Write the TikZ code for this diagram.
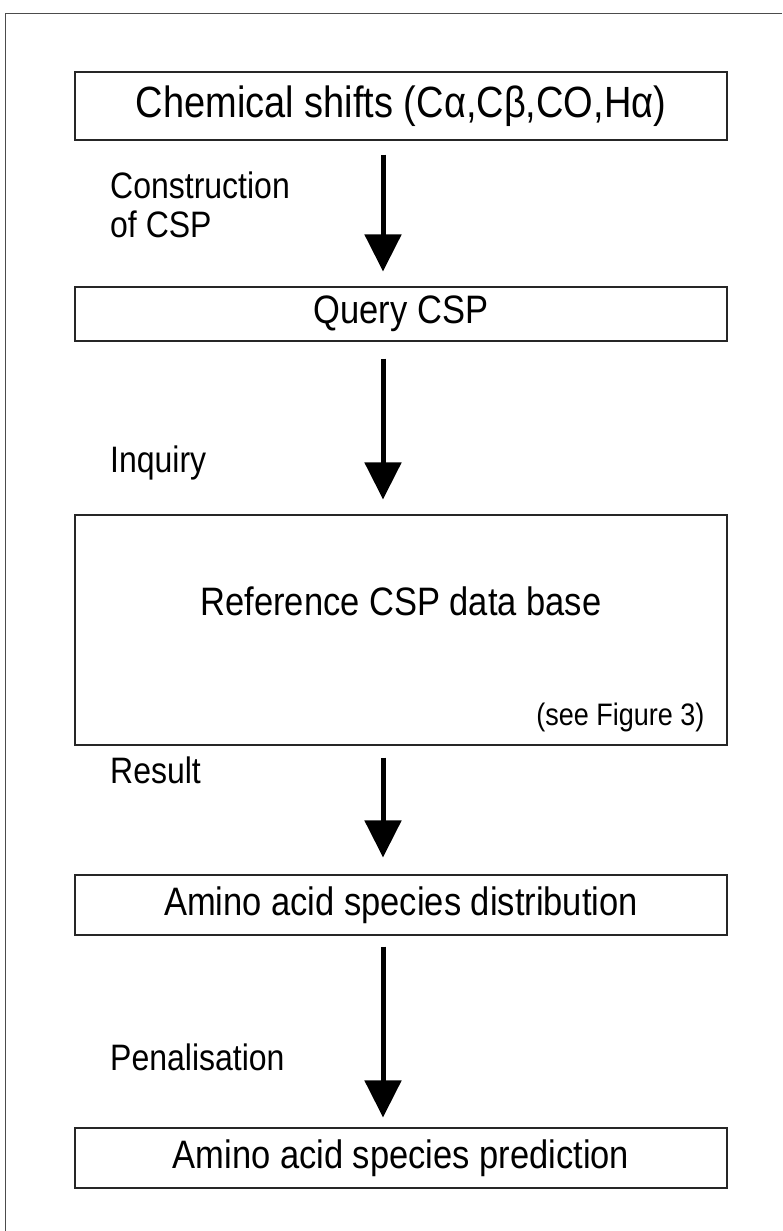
\documentclass[tikz,border=0pt]{standalone}
\usepackage{fontspec}
\setmainfont{Liberation Sans}
\usetikzlibrary{arrows.meta}
\newcommand{\tallt}[1]{\scalebox{1}[1.15]{#1}}
\begin{document}
\begin{tikzpicture}[x=1pt,y=-1pt,
  stage/.style={draw=black!85,line width=1.1pt,minimum width=652pt,inner sep=0pt,font=\fontsize{34.5}{40}\selectfont},
  flow/.style={line width=5pt,-{Triangle[width=36pt,length=37pt]}},
  lab/.style={anchor=west,inner sep=0pt,align=left,font=\fontsize{32}{36}\selectfont}]
\useasboundingbox (0,0) rectangle (782,1231);
\draw[black!70,line width=0.9pt] (782,13) -- (5,13) -- (5,1231);
\node[stage,minimum height=68pt,font=\fontsize{38}{42}\selectfont] (b1) at (401,106) {\tallt{Chemical shifts (Cα,Cβ,CO,Hα)}};
\node[stage,minimum height=54pt] (b2) at (401,314) {\tallt{Query CSP}};
\node[stage,minimum height=230pt] (b3) at (401,630) {};
\node[font=\fontsize{34.5}{40}\selectfont] (t3) at (401,601) {\tallt{Reference CSP data base}};
\node[font=\fontsize{27}{32}\selectfont,anchor=east] (n3) at (708,717) {\tallt{(see Figure 3)}};
\node[stage,minimum height=60pt] (b4) at (401,905) {\tallt{Amino acid species distribution}};
\node[stage,minimum height=60pt] (b5) at (401,1158) {\tallt{Amino acid species prediction}};
\coordinate (ax) at (383,0);
\draw[flow,shorten <=14pt,shorten >=15pt] (ax |- b1.south) -- (ax |- b2.north);
\draw[flow,shorten <=17pt,shorten >=15pt] (ax |- b2.south) -- (ax |- b3.north);
\draw[flow,shorten <=12pt,shorten >=17pt] (ax |- b3.south) -- (ax |- b4.north);
\draw[flow,shorten <=11pt,shorten >=10pt] (ax |- b4.south) -- (ax |- b5.north);
\node[lab] (l1) at (110,205) {\tallt{Construction}\\[3pt]\tallt{of CSP}};
\node[lab] (l2) at (110,463) {\tallt{Inquiry}};
\node[lab] (l3) at (110,770) {\tallt{Result}};
\node[lab] (l4) at (110,1057) {\tallt{Penalisation}};
\end{tikzpicture}
\end{document}
